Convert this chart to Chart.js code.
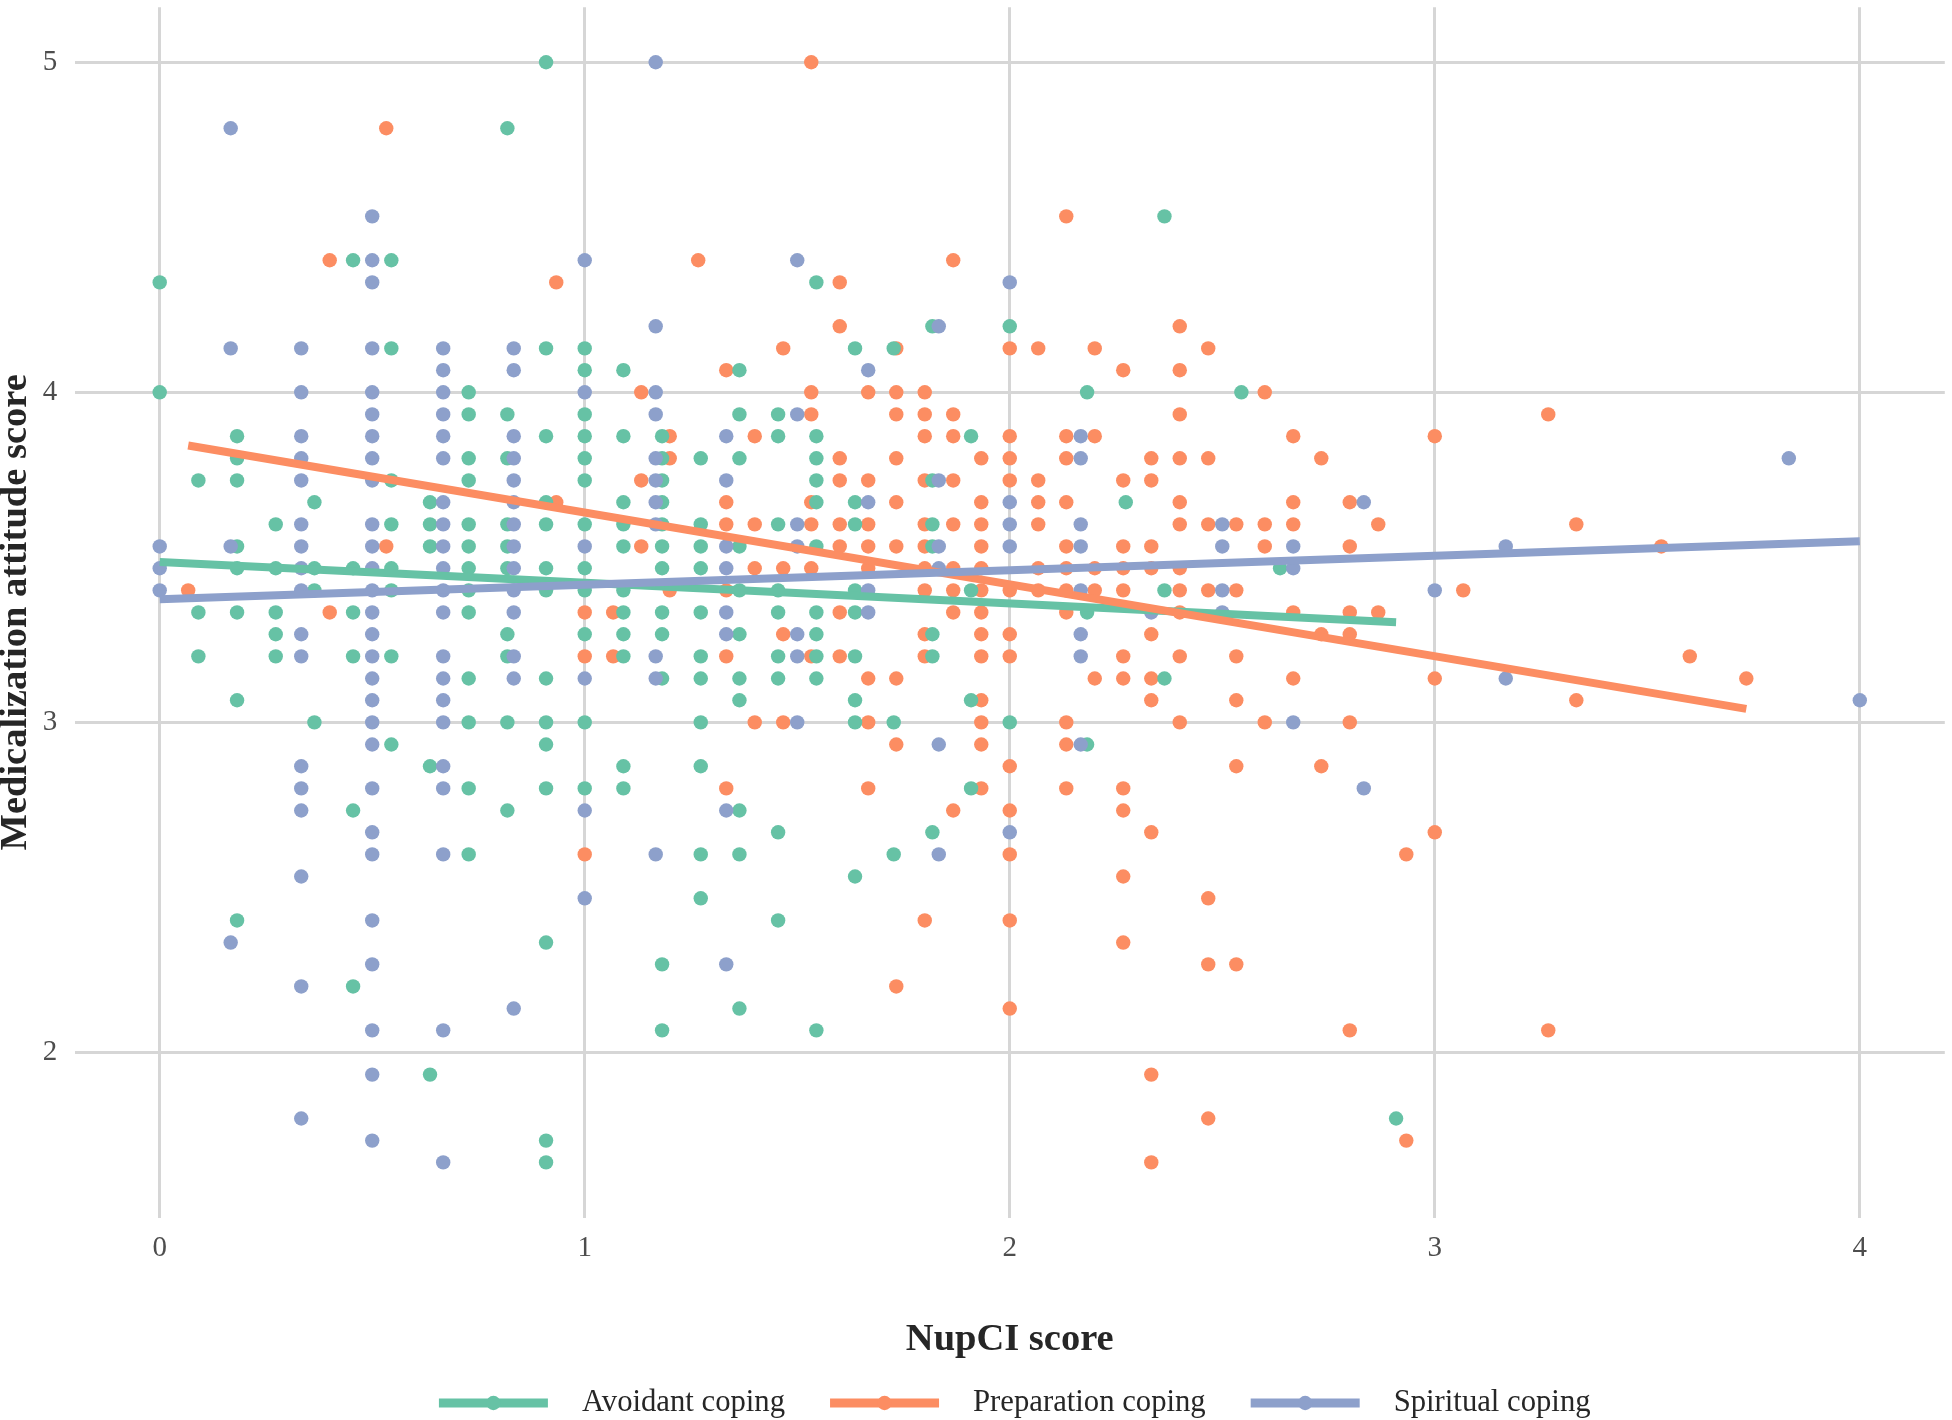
<!DOCTYPE html>
<html><head><meta charset="utf-8">
<script src="https://cdn.jsdelivr.net/npm/chart.js@4.4.1/dist/chart.umd.min.js"></script>
<style>html,body{margin:0;padding:0;background:#fff}canvas{display:block}</style>
</head><body>
<canvas id="c" width="1952" height="1420"></canvas>
<script>
// ---------- data ----------
const seriesLabels = ['Avoidant coping', 'Preparation coping', 'Spiritual coping'];
const xTickValues = [0, 1, 2, 3, 4];
const xTickLabels = ['0', '1', '2', '3', '4'];
const yTickValues = [2, 3, 4, 5];
const yTickLabels = ['2', '3', '4', '5'];
const xTitle = 'NupCI score';
const yTitle = 'Medicalization attitude score';

const avoidantPoints = [
[0,4.333],[0,4.000],
[0.091,3.733],[0.091,3.333],[0.091,3.200],
[0.182,3.867],[0.182,3.800],[0.182,3.733],[0.182,3.533],[0.182,3.467],[0.182,3.333],[0.182,3.067],[0.182,2.400],
[0.273,3.600],[0.273,3.467],[0.273,3.333],[0.273,3.267],[0.273,3.200],
[0.364,3.667],[0.364,3.467],[0.364,3.400],[0.364,3.000],
[0.455,4.400],[0.455,3.467],[0.455,3.333],[0.455,3.200],[0.455,2.733],[0.455,2.200],
[0.545,4.400],[0.545,4.133],[0.545,3.733],[0.545,3.600],[0.545,3.467],[0.545,3.400],[0.545,3.200],[0.545,2.933],
[0.636,3.667],[0.636,3.600],[0.636,3.533],[0.636,2.867],[0.636,1.933],
[0.727,4.000],[0.727,3.933],[0.727,3.800],[0.727,3.733],[0.727,3.600],[0.727,3.533],[0.727,3.467],[0.727,3.400],[0.727,3.333],[0.727,3.133],[0.727,3.000],[0.727,2.800],[0.727,2.600],
[0.818,4.800],[0.818,3.933],[0.818,3.800],[0.818,3.600],[0.818,3.533],[0.818,3.467],[0.818,3.267],[0.818,3.200],[0.818,3.000],[0.818,2.733],
[0.909,5.000],[0.909,4.133],[0.909,3.867],[0.909,3.667],[0.909,3.600],[0.909,3.467],[0.909,3.400],[0.909,3.133],[0.909,3.000],[0.909,2.933],[0.909,2.800],[0.909,2.333],[0.909,1.733],[0.909,1.667],
[1,4.133],[1,4.067],[1,3.933],[1,3.867],[1,3.800],[1,3.733],[1,3.600],[1,3.467],[1,3.400],[1,3.267],[1,3.000],[1,2.800],
[1.091,4.067],[1.091,3.867],[1.091,3.667],[1.091,3.600],[1.091,3.533],[1.091,3.400],[1.091,3.333],[1.091,3.267],[1.091,3.200],[1.091,2.867],[1.091,2.800],
[1.182,3.867],[1.182,3.800],[1.182,3.733],[1.182,3.667],[1.182,3.600],[1.182,3.533],[1.182,3.467],[1.182,3.333],[1.182,3.267],[1.182,3.133],[1.182,2.267],[1.182,2.067],
[1.273,3.800],[1.273,3.600],[1.273,3.533],[1.273,3.467],[1.273,3.333],[1.273,3.200],[1.273,3.133],[1.273,3.000],[1.273,2.867],[1.273,2.600],[1.273,2.467],
[1.364,4.067],[1.364,3.933],[1.364,3.800],[1.364,3.533],[1.364,3.400],[1.364,3.267],[1.364,3.133],[1.364,3.067],[1.364,2.733],[1.364,2.600],[1.364,2.133],
[1.455,3.933],[1.455,3.867],[1.455,3.600],[1.455,3.400],[1.455,3.333],[1.455,3.200],[1.455,3.133],[1.455,2.667],[1.455,2.400],
[1.545,4.333],[1.545,3.867],[1.545,3.800],[1.545,3.733],[1.545,3.667],[1.545,3.533],[1.545,3.333],[1.545,3.267],[1.545,3.200],[1.545,3.133],[1.545,2.067],
[1.636,4.133],[1.636,3.667],[1.636,3.600],[1.636,3.400],[1.636,3.333],[1.636,3.200],[1.636,3.067],[1.636,3.000],[1.636,2.533],
[1.727,4.133],[1.727,3.000],[1.727,2.600],
[1.818,4.200],[1.818,3.733],[1.818,3.600],[1.818,3.533],[1.818,3.267],[1.818,3.200],[1.818,2.667],
[1.909,3.867],[1.909,3.400],[1.909,3.067],[1.909,2.800],
[2,4.200],[2,3.000],
[2.182,4.000],[2.182,3.333],[2.182,2.933],
[2.273,3.667],
[2.364,4.533],[2.364,3.400],[2.364,3.133],
[2.545,4.000],
[2.636,3.467],
[2.909,1.800]
];

const preparationPoints = [
[0.067,3.400],
[0.4,4.400],[0.4,3.333],
[0.533,4.800],[0.533,3.533],
[0.933,4.333],[0.933,3.667],
[1,3.333],[1,3.200],[1,2.600],
[1.067,3.333],[1.067,3.200],
[1.133,4.000],[1.133,3.733],[1.133,3.533],
[1.2,3.867],[1.2,3.800],[1.2,3.400],
[1.267,4.400],
[1.333,4.067],[1.333,3.667],[1.333,3.600],[1.333,3.400],[1.333,3.200],[1.333,2.800],
[1.4,3.867],[1.4,3.600],[1.4,3.467],[1.4,3.000],
[1.467,4.133],[1.467,3.467],[1.467,3.267],[1.467,3.000],
[1.533,5.000],[1.533,4.000],[1.533,3.933],[1.533,3.667],[1.533,3.600],[1.533,3.467],[1.533,3.200],
[1.6,4.333],[1.6,4.200],[1.6,3.800],[1.6,3.733],[1.6,3.600],[1.6,3.533],[1.6,3.333],[1.6,3.200],
[1.667,4.000],[1.667,3.733],[1.667,3.600],[1.667,3.533],[1.667,3.467],[1.667,3.133],[1.667,3.000],[1.667,2.800],
[1.733,4.133],[1.733,4.000],[1.733,3.933],[1.733,3.800],[1.733,3.667],[1.733,3.533],[1.733,3.133],[1.733,2.933],[1.733,2.200],
[1.8,4.000],[1.8,3.933],[1.8,3.867],[1.8,3.733],[1.8,3.600],[1.8,3.533],[1.8,3.467],[1.8,3.400],[1.8,3.267],[1.8,3.200],[1.8,2.400],
[1.867,4.400],[1.867,3.933],[1.867,3.867],[1.867,3.733],[1.867,3.600],[1.867,3.467],[1.867,3.400],[1.867,3.333],[1.867,2.733],
[1.933,3.800],[1.933,3.667],[1.933,3.600],[1.933,3.533],[1.933,3.467],[1.933,3.400],[1.933,3.333],[1.933,3.267],[1.933,3.200],[1.933,3.067],[1.933,3.000],[1.933,2.933],[1.933,2.800],
[2,4.133],[2,3.867],[2,3.800],[2,3.733],[2,3.400],[2,3.267],[2,3.200],[2,2.867],[2,2.733],[2,2.600],[2,2.400],[2,2.133],
[2.067,4.133],[2.067,3.733],[2.067,3.667],[2.067,3.600],[2.067,3.467],[2.067,3.400],
[2.133,4.533],[2.133,3.867],[2.133,3.800],[2.133,3.667],[2.133,3.533],[2.133,3.467],[2.133,3.400],[2.133,3.333],[2.133,3.000],[2.133,2.933],[2.133,2.800],
[2.2,4.133],[2.2,3.867],[2.2,3.467],[2.2,3.400],[2.2,3.133],
[2.267,4.067],[2.267,3.733],[2.267,3.533],[2.267,3.467],[2.267,3.400],[2.267,3.200],[2.267,3.133],[2.267,2.800],[2.267,2.733],[2.267,2.533],[2.267,2.333],
[2.333,3.800],[2.333,3.733],[2.333,3.533],[2.333,3.467],[2.333,3.267],[2.333,3.133],[2.333,3.067],[2.333,2.667],[2.333,1.933],[2.333,1.667],
[2.4,4.200],[2.4,4.067],[2.4,3.933],[2.4,3.800],[2.4,3.667],[2.4,3.600],[2.4,3.467],[2.4,3.400],[2.4,3.333],[2.4,3.200],[2.4,3.000],
[2.467,4.133],[2.467,3.800],[2.467,3.600],[2.467,3.400],[2.467,2.467],[2.467,2.267],[2.467,1.800],
[2.533,3.600],[2.533,3.400],[2.533,3.200],[2.533,3.067],[2.533,2.867],[2.533,2.267],
[2.6,4.000],[2.6,3.600],[2.6,3.533],[2.6,3.000],
[2.667,3.867],[2.667,3.667],[2.667,3.600],[2.667,3.333],[2.667,3.133],
[2.733,3.800],[2.733,3.267],[2.733,2.867],
[2.8,3.667],[2.8,3.533],[2.8,3.333],[2.8,3.267],[2.8,3.000],[2.8,2.067],
[2.867,3.600],[2.867,3.333],
[2.933,2.600],[2.933,1.733],
[3,3.867],[3,3.133],[3,2.667],
[3.067,3.400],
[3.267,3.933],[3.267,2.067],
[3.333,3.600],[3.333,3.067],
[3.533,3.533],
[3.6,3.200],
[3.733,3.133]
];

const spiritualPoints = [
[0,3.533],[0,3.467],[0,3.400],
[0.167,4.800],[0.167,4.133],[0.167,3.533],[0.167,2.333],
[0.333,4.133],[0.333,4.000],[0.333,3.867],[0.333,3.800],[0.333,3.733],[0.333,3.600],[0.333,3.533],[0.333,3.467],[0.333,3.400],[0.333,3.267],[0.333,3.200],[0.333,2.867],[0.333,2.800],[0.333,2.733],[0.333,2.533],[0.333,2.200],[0.333,1.800],
[0.5,4.533],[0.5,4.400],[0.5,4.333],[0.5,4.133],[0.5,4.000],[0.5,3.933],[0.5,3.867],[0.5,3.800],[0.5,3.733],[0.5,3.600],[0.5,3.533],[0.5,3.467],[0.5,3.400],[0.5,3.333],[0.5,3.267],[0.5,3.200],[0.5,3.133],[0.5,3.067],[0.5,3.000],[0.5,2.933],[0.5,2.800],[0.5,2.667],[0.5,2.600],[0.5,2.400],[0.5,2.267],[0.5,2.067],[0.5,1.933],[0.5,1.733],
[0.667,4.133],[0.667,4.067],[0.667,4.000],[0.667,3.933],[0.667,3.867],[0.667,3.800],[0.667,3.667],[0.667,3.600],[0.667,3.533],[0.667,3.467],[0.667,3.400],[0.667,3.333],[0.667,3.200],[0.667,3.133],[0.667,3.067],[0.667,3.000],[0.667,2.867],[0.667,2.800],[0.667,2.600],[0.667,2.067],[0.667,1.667],
[0.833,4.133],[0.833,4.067],[0.833,3.867],[0.833,3.800],[0.833,3.733],[0.833,3.667],[0.833,3.600],[0.833,3.533],[0.833,3.467],[0.833,3.400],[0.833,3.333],[0.833,3.200],[0.833,3.133],[0.833,2.133],
[1,4.400],[1,4.000],[1,3.533],[1,3.133],[1,2.733],[1,2.467],
[1.167,5.000],[1.167,4.200],[1.167,4.000],[1.167,3.933],[1.167,3.800],[1.167,3.733],[1.167,3.667],[1.167,3.600],[1.167,3.200],[1.167,3.133],[1.167,2.600],
[1.333,3.867],[1.333,3.733],[1.333,3.533],[1.333,3.467],[1.333,3.333],[1.333,3.267],[1.333,2.733],[1.333,2.267],
[1.5,4.400],[1.5,3.933],[1.5,3.600],[1.5,3.533],[1.5,3.267],[1.5,3.200],[1.5,3.000],
[1.667,4.067],[1.667,3.667],[1.667,3.400],[1.667,3.333],
[1.833,4.200],[1.833,3.733],[1.833,3.533],[1.833,3.467],[1.833,2.933],[1.833,2.600],
[2,4.333],[2,3.667],[2,3.600],[2,3.533],[2,2.667],
[2.167,3.867],[2.167,3.800],[2.167,3.600],[2.167,3.533],[2.167,3.400],[2.167,3.267],[2.167,3.200],[2.167,2.933],
[2.333,3.333],
[2.5,3.600],[2.5,3.533],[2.5,3.400],[2.5,3.333],
[2.667,3.533],[2.667,3.467],[2.667,3.000],
[2.833,3.667],[2.833,2.800],
[3,3.400],
[3.167,3.533],[3.167,3.133],
[3.833,3.800],
[4,3.067]
];

// fitted linear trend lines (end points)
const avoidantFit = [[0, 3.486], [2.909, 3.303]];
const preparationFit = [[0.067, 3.839], [3.733, 3.041]];
const spiritualFit = [[0, 3.373], [4, 3.549]];

// ---------- styles ----------
const COLORS = ['#66C2A5', '#FC8D62', '#8DA0CB'];
const SERIF = '"Liberation Serif", "Times New Roman", Times, serif';
const GRID = '#d6d6d6';
const TITLE_COLOR = '#262626';
const TICK_COLOR = '#4d4d4d';

const toXY = arr => arr.map(p => ({ x: p[0], y: p[1] }));

function pointDs(label, pts, color, order) {
  return { label, data: toXY(pts), backgroundColor: color, borderWidth: 0,
    pointRadius: 7.2, pointHoverRadius: 7.2, showLine: false, order };
}
function lineDs(label, pts, color, order) {
  return { label, data: toXY(pts), borderColor: color, backgroundColor: color,
    borderWidth: 8, pointRadius: 0, showLine: true, fill: false, order, borderCapStyle: 'butt' };
}

const legendPlugin = {
  id: 'ggLegend',
  afterDraw(chart) {
    const ctx = chart.ctx;
    const ca = chart.chartArea;
    const keyW = 109, textGap = 34, itemGap = 45;
    ctx.save();
    ctx.font = '30.7px ' + SERIF;
    const widths = seriesLabels.map(t => ctx.measureText(t).width);
    const total = widths.reduce((a, w) => a + keyW + textGap + w, 0) + itemGap * (seriesLabels.length - 1);
    let x = (ca.left + ca.right) / 2 + 5 - total / 2;
    const y = chart.height - 17;
    seriesLabels.forEach((label, i) => {
      ctx.strokeStyle = COLORS[i];
      ctx.lineWidth = 9;
      ctx.lineCap = 'butt';
      ctx.beginPath();
      ctx.moveTo(x, y);
      ctx.lineTo(x + keyW, y);
      ctx.stroke();
      ctx.fillStyle = COLORS[i];
      ctx.beginPath();
      ctx.arc(x + keyW / 2, y, 7.2, 0, Math.PI * 2);
      ctx.fill();
      ctx.fillStyle = TITLE_COLOR;
      ctx.textAlign = 'left';
      ctx.textBaseline = 'middle';
      ctx.fillText(label, x + keyW + textGap, y);
      x += keyW + textGap + widths[i] + itemGap;
    });
    ctx.restore();
  }
};

new Chart(document.getElementById('c').getContext('2d'), {
  type: 'scatter',
  data: {
    datasets: [
      lineDs(seriesLabels[2] + ' trend', spiritualFit, COLORS[2], 0),
      lineDs(seriesLabels[1] + ' trend', preparationFit, COLORS[1], 1),
      lineDs(seriesLabels[0] + ' trend', avoidantFit, COLORS[0], 2),
      pointDs(seriesLabels[2], spiritualPoints, COLORS[2], 3),
      pointDs(seriesLabels[0], avoidantPoints, COLORS[0], 4),
      pointDs(seriesLabels[1], preparationPoints, COLORS[1], 5)
    ]
  },
  options: {
    responsive: false,
    animation: false,
    devicePixelRatio: 1,
    events: [],
    layout: { padding: { top: 3.8, right: 6, bottom: 56.9, left: 0 } },
    plugins: { legend: { display: false }, tooltip: { enabled: false } },
    scales: {
      x: {
        type: 'linear', min: -0.2, max: 4.2,
        afterBuildTicks: s => { s.ticks = xTickValues.map(v => ({ value: v })); },
        afterFit: s => { s.height = 145.6; s.paddingLeft = 0; s.paddingRight = 0; s.paddingTop = 0; s.paddingBottom = 0; },
        grid: { color: GRID, lineWidth: 3, drawTicks: false },
        border: { display: false },
        ticks: { autoSkip: false, maxRotation: 0, padding: 13.7, color: TICK_COLOR,
          font: { family: SERIF, size: 29 },
          callback: (v, i) => xTickLabels[i] },
        title: { display: true, text: xTitle, color: TITLE_COLOR, padding: 0,
          font: { family: SERIF, size: 38.5, weight: 'bold' } }
      },
      y: {
        type: 'linear', min: 1.5, max: 5.1667,
        afterBuildTicks: s => { s.ticks = yTickValues.map(v => ({ value: v })); },
        afterFit: s => { s.width = 74.7; s.paddingTop = 0; s.paddingBottom = 0; s.paddingLeft = 0; s.paddingRight = 0; },
        grid: { color: GRID, lineWidth: 3, drawTicks: false },
        border: { display: false },
        ticks: { autoSkip: false, padding: 17.4, color: TICK_COLOR,
          font: { family: SERIF, size: 29 },
          callback: (v, i) => yTickLabels[i] },
        title: { display: true, text: yTitle, color: TITLE_COLOR, padding: 0,
          font: { family: SERIF, size: 38.5, weight: 'bold', lineHeight: 0.85 } }
      }
    }
  },
  plugins: [legendPlugin]
});
</script>
</body></html>
